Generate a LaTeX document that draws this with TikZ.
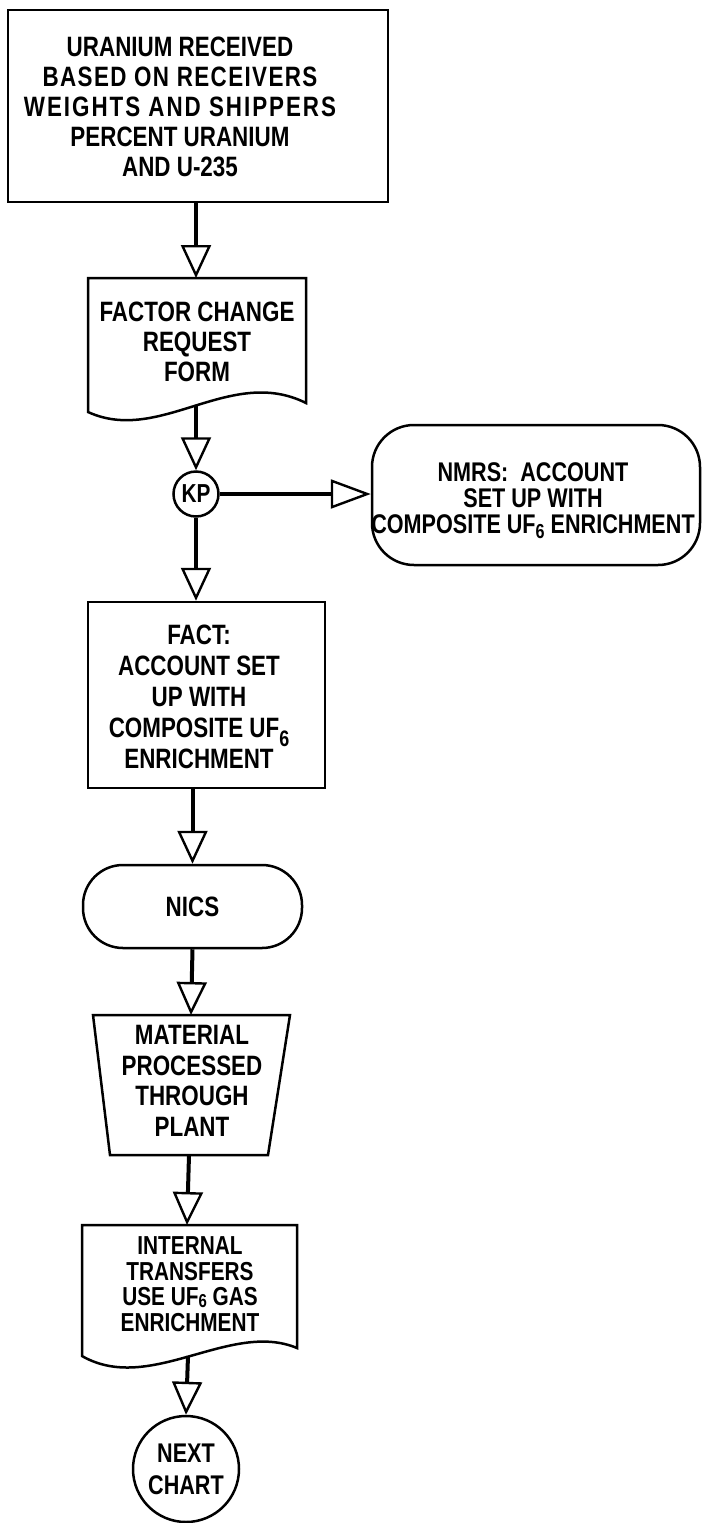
\documentclass[tikz,border=0pt]{standalone}
\usepackage{fontspec}
\setmainfont{Liberation Sans}[FakeStretch=0.8]
\usetikzlibrary{arrows.meta}
\newcommand\lowsix{\raisebox{-0.3em}{\scalebox{0.8}{6}}}
\newcommand\lowsixb{\raisebox{-0.18em}{\scalebox{0.75}{6}}}
\newcommand\lowsixc{\raisebox{-0.08em}{\scalebox{0.72}{6}}}
\begin{document}
\begin{tikzpicture}[x=1pt,y=-1pt,
  shp/.style={draw,line width=2.5pt},
  lbl/.style={font=\bfseries\fontsize{28}{30}\selectfont,align=center,inner sep=0pt},
  flow/.style={line width=4pt,-{Triangle[open,width=30pt,length=33pt,line width=2.4pt]}},
  flowh/.style={line width=4pt,-{Triangle[open,width=29pt,length=40pt,line width=2.4pt]}},
]
\useasboundingbox (0,0) rectangle (710,1523);

% top box
\node[shp,minimum width=380pt,minimum height=192pt,inner sep=0pt] (top) at (198,106) {};
\node[lbl] (toptxt) at (180,107) {URANIUM RECEIVED\\{\addfontfeatures{LetterSpace=5}BASED ON RECEIVERS}\\{\addfontfeatures{LetterSpace=7}WEIGHTS AND SHIPPERS}\\PERCENT URANIUM\\AND U-235};

% document 1
\draw[shp] (88,278) -- (306,278) -- (306,403) .. controls (230,365) and (160,445) .. (88,412) -- cycle;
\coordinate (d1t) at (196,278);
\coordinate (d1b) at (196,406);
\node[lbl] (d1txt) at (197,342) {FACTOR CHANGE\\REQUEST\\FORM};

% KP connector
\node[shp,circle,minimum size=45pt,inner sep=0pt,font=\bfseries\fontsize{26}{26}\selectfont] (kp) at (196,494) {KP};

% NMRS terminal
\node[shp,rounded corners=42pt,minimum width=328pt,minimum height=140pt,inner sep=0pt] (nmrs) at (536,495) {};
\node[lbl,font=\bfseries\fontsize{27}{26}\selectfont] (nmrstxt) at (533,501) {NMRS:\ \ ACCOUNT\\SET UP WITH\\COMPOSITE UF\lowsixb\ ENRICHMENT};

% FACT box
\node[shp,minimum width=237pt,minimum height=186pt,inner sep=0pt] (fact) at (206.5,695) {};
\node[lbl,font=\bfseries\fontsize{28}{31}\selectfont] (facttxt) at (199,697) {FACT:\\ACCOUNT SET\\UP WITH\\COMPOSITE UF\lowsix\\ENRICHMENT};

% NICS terminal
\node[shp,rounded corners=40pt,minimum width=219pt,minimum height=83pt,inner sep=0pt,lbl] (nics) at (192.5,906.5) {NICS};

% trapezoid
\draw[shp] (93,1015) -- (290,1015) -- (268,1155) -- (110,1155) -- cycle;
\coordinate (tpt) at (191,1015);
\coordinate (tpb) at (189,1155);
\node[lbl,font=\bfseries\fontsize{28}{30.5}\selectfont] (tptxt) at (192,1081) {MATERIAL\\PROCESSED\\THROUGH\\PLANT};

% document 2
\draw[shp] (82,1225) -- (297,1225) -- (297,1348) .. controls (230,1320) and (150,1395) .. (82,1356) -- cycle;
\coordinate (d2t) at (187,1225);
\coordinate (d2b) at (188,1356);
\node[lbl,font=\bfseries\fontsize{26}{25.5}\selectfont] (d2txt) at (190,1284) {INTERNAL\\TRANSFERS\\USE UF\lowsixc\ GAS\\ENRICHMENT};

% next chart
\node[shp,circle,minimum size=106pt,inner sep=0pt,lbl,font=\bfseries\fontsize{27}{32}\selectfont] (next) at (186,1469) {NEXT\\CHART};

% connectors
\draw[flow] (top.south -| d1t) -- (d1t);
\draw[flow] (d1b) -- (kp.north);
\draw[flowh] (kp.east) -- (kp.east -| nmrs.west);
\draw[flow] (kp.south) -- (kp.south |- fact.north);
\draw[flow] (fact.south -| nics.north) -- (nics.north);
\draw[flow] (nics.south) -- (tpt);
\draw[flow] (tpb) -- (d2t);
\draw[flow] (d2b) -- (next.north);
\end{tikzpicture}
\end{document}
